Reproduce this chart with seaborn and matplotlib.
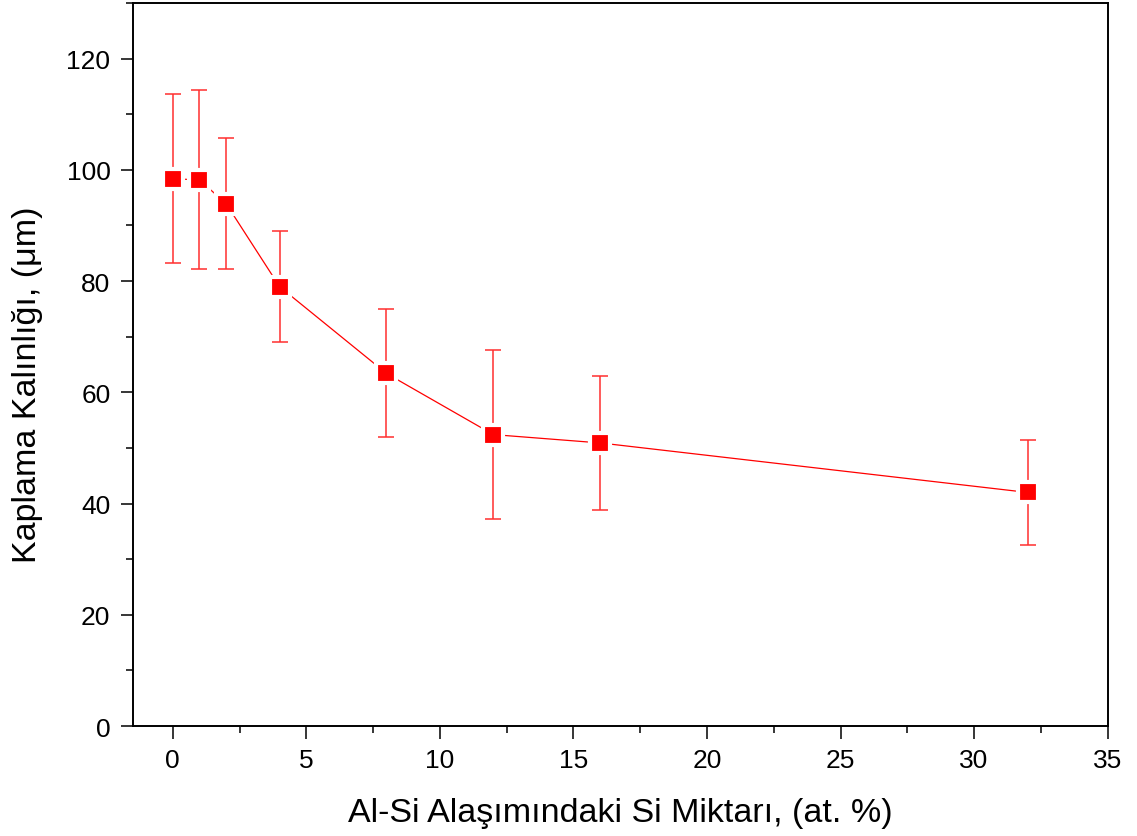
import matplotlib
matplotlib.use("Agg")
import matplotlib.pyplot as plt
from matplotlib.ticker import MultipleLocator
import seaborn as sns
import pandas as pd

# Si content of the Al-Si alloy (at. %) and resulting coating thickness (µm)
si_content = [0, 1, 2, 4, 8, 12, 16, 32]
thickness = [98.4, 98.2, 93.9, 79.0, 63.4, 52.4, 50.9, 42.0]
thickness_err = [15.2, 16.1, 11.8, 10.0, 11.5, 15.2, 12.0, 9.5]

x_ticks = [0, 5, 10, 15, 20, 25, 30, 35]
y_ticks = [0, 20, 40, 60, 80, 100, 120]

df = pd.DataFrame({"si": si_content, "t": thickness, "err": thickness_err})

sns.set_theme(style="ticks")
plt.rcParams["font.family"] = ["Liberation Sans", "DejaVu Sans"]
plt.rcParams["text.color"] = "black"
plt.rcParams["axes.labelcolor"] = "black"

fig = plt.figure(figsize=(11.37, 8.37), dpi=100)
ax = fig.add_axes([0.1167, 0.1314, 0.8575, 0.8638])

ax.errorbar(df["si"], df["t"], yerr=df["err"], fmt="none",
            ecolor="#ff3030", elinewidth=1.3, capsize=5.5, capthick=1.3,
            alpha=0.85, zorder=2)

sns.lineplot(data=df, x="si", y="t", ax=ax, color="red", linewidth=0.9,
             marker="s", markersize=14, markerfacecolor="red",
             markeredgecolor="white", markeredgewidth=3, zorder=3)

ax.set_xlim(-1.5, 35)
ax.set_ylim(0, 130)
ax.set_xticks(x_ticks)
ax.set_yticks(y_ticks)
ax.xaxis.set_minor_locator(MultipleLocator(2.5))
ax.yaxis.set_minor_locator(MultipleLocator(10))

ax.tick_params(axis="both", which="major", direction="out", length=9,
               width=1.1, labelsize=19, pad=7, colors="black",
               labelcolor="black", top=False, right=False)
ax.tick_params(axis="both", which="minor", direction="out", length=5,
               width=1.1, colors="black", top=False, right=False)

for side in ["left", "right", "top", "bottom"]:
    ax.spines[side].set_visible(True)
    ax.spines[side].set_linewidth(1.4)
    ax.spines[side].set_color("black")

ax.set_xlabel("Al-Si Alaşımındaki Si Miktarı, (at. %)", fontsize=24.5,
              color="black")
ax.set_ylabel("Kaplama Kalınlığı, (μm)", fontsize=24.5, color="black")
ax.xaxis.set_label_coords(0.50, -0.098)
ax.yaxis.set_label_coords(-0.092, 0.473)

fig.savefig("out.png", dpi=100, facecolor="white")
